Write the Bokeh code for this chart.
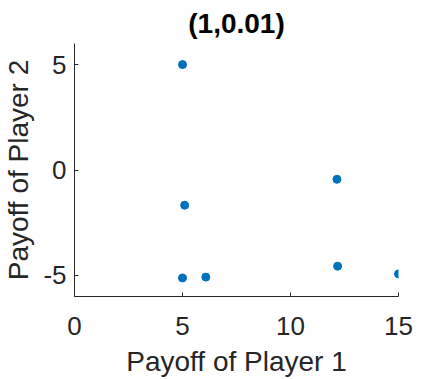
from bokeh.plotting import figure
from bokeh.models import Range1d, FixedTicker, ColumnDataSource
from bokeh.embed import file_html
from bokeh.resources import INLINE

payoff_p1 = [5.0, 12.15, 5.1, 5.0, 6.08, 12.18, 15.0]
payoff_p2 = [5.0, -0.44, -1.67, -5.12, -5.08, -4.56, -4.93]
x_ticks = [0, 5, 10, 15]
y_ticks = [-5, 0, 5]
title_text = "(1,0.01)"
x_label = "Payoff of Player 1"
y_label = "Payoff of Player 2"

src = ColumnDataSource(dict(x=payoff_p1, y=payoff_p2))

p = figure(frame_width=324, frame_height=253, output_backend="svg", toolbar_location=None,
           x_range=Range1d(0, 15), y_range=Range1d(-6, 6),
           min_border_left=66, min_border_right=35, min_border_top=37, min_border_bottom=0)
p.title.text = title_text
p.title.align = "center"
p.title.text_font = "Liberation Sans"
p.title.text_font_size = "28px"
p.title.text_font_style = "bold"
p.title.text_color = "#000000"

p.scatter("x", "y", source=src, size=8, fill_color="#0072BD", line_color="#0072BD")

p.xgrid.visible = False
p.ygrid.visible = False
p.outline_line_color = None

for ax, ticks, lab in ((p.xaxis[0], x_ticks, x_label), (p.yaxis[0], y_ticks, y_label)):
    ax.ticker = FixedTicker(ticks=ticks)
    ax.major_label_overrides = {t: str(t) for t in ticks}
    ax.axis_label = lab
    ax.axis_label_text_font = "Liberation Sans"
    ax.axis_label_text_font_size = "28px"
    ax.axis_label_text_font_style = "normal"
    ax.axis_label_text_color = "#262626"
    ax.major_label_text_font = "Liberation Sans"
    ax.major_label_text_font_size = "26px"
    ax.major_label_text_color = "#262626"
    ax.axis_line_color = "#262626"
    ax.major_tick_line_color = "#262626"
    ax.major_tick_in = 4
    ax.major_tick_out = 0
    ax.minor_tick_line_color = None

p.yaxis[0].major_label_standoff = 8
p.xaxis[0].major_label_standoff = 20
p.yaxis[0].axis_label_standoff = 6
p.xaxis[0].axis_label_standoff = 8

open("out.html", "w").write(file_html(p, INLINE))
